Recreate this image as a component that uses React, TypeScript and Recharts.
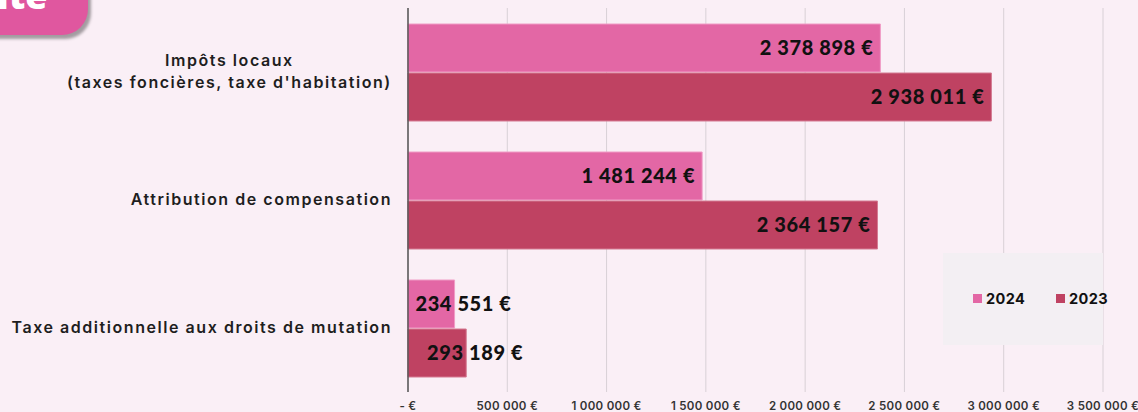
import React from 'react';
import { BarChart, Bar, XAxis, YAxis, CartesianGrid, Legend, LabelList } from 'recharts';

const categories = [
  'Impôts locaux\n(taxes foncières, taxe d\'habitation)',
  'Attribution de compensation',
  'Taxe additionnelle aux droits de mutation',
];
const values2024 = [2378898, 1481244, 234551];
const values2023 = [2938011, 2364157, 293189];
const xTicks = [0, 500000, 1000000, 1500000, 2000000, 2500000, 3000000, 3500000];
const seriesNames = ['2024', '2023'];
const colors = ['#e367a5', '#bf4262'];

const data = categories.map((c, i) => ({ name: c, v2024: values2024[i], v2023: values2023[i] }));

const fmt = (v: number) => {
  if (v === 0) return '- €';
  return String(Math.round(v)).replace(/\B(?=(\d{3})+(?!\d))/g, ' ') + ' €';
};

const CAT_FAMILY = 'Inter';
const CAT_SIZE = 16;
const CAT_SPACING = 1.55;
const CAT_FONT = `600 ${CAT_SIZE}px ${CAT_FAMILY}`;
const VAL_FAMILY = 'Lato';
const VAL_SIZE = 20;
let canvas: HTMLCanvasElement | null = null;
const measure = (t: string, font: string) => {
  if (!canvas) canvas = document.createElement('canvas');
  const ctx = canvas.getContext('2d')!;
  ctx.font = font;
  return ctx.measureText(t).width;
};

const YTick = (props: any) => {
  const { x, y, payload } = props;
  const lines = String(payload.value).split('\n');
  const rightX = x - 8;
  const lh = 22;
  const common = {
    fontFamily: CAT_FAMILY,
    fontWeight: 600,
    fontSize: CAT_SIZE,
    letterSpacing: CAT_SPACING,
    fill: '#1e1e1e',
  };
  if (lines.length === 1) {
    return (
      <text x={rightX} y={y} dy={5} textAnchor="end" {...common}>
        {lines[0]}
      </text>
    );
  }
  const maxW = Math.max(...lines.map((l) => measure(l, CAT_FONT) + l.length * CAT_SPACING));
  const cx = rightX - maxW / 2;
  const startY = y - ((lines.length - 1) * lh) / 2;
  return (
    <g>
      {lines.map((l, i) => (
        <text key={i} x={cx} y={startY + i * lh} dy={5} textAnchor="middle" {...common}>
          {l}
        </text>
      ))}
    </g>
  );
};

const XTick = (props: any) => {
  const { x, y, payload } = props;
  return (
    <text x={x} y={y} dy={10} textAnchor="middle" fontFamily="Inter" fontWeight={600} fontSize={11.5} letterSpacing={0.3} fill="#333">
      {fmt(payload.value)}
    </text>
  );
};

const ValueLabel = (props: any) => {
  const { x, y, width, height, value } = props;
  const text = fmt(value);
  const w = measure(text, `900 ${VAL_SIZE}px ${VAL_FAMILY}`) + text.length * 0.6;
  const cy = y + height / 2;
  const common = { fontFamily: VAL_FAMILY, fontWeight: 900, fontSize: VAL_SIZE, fill: '#111', letterSpacing: 0.6 };
  if (w + 20 > width) {
    return (
      <text x={x + width + 57} y={cy} dy={7} textAnchor="end" {...common}>
        {text}
      </text>
    );
  }
  return (
    <text x={x + width - 7} y={cy} dy={7} textAnchor="end" {...common}>
      {text}
    </text>
  );
};

const LegendContent = () => (
  <div
    style={{
      position: 'absolute',
      left: 943,
      top: 253,
      width: 160,
      height: 92,
      background: '#f3eff3',
      fontFamily: 'Inter',
      fontWeight: 700,
      fontSize: 14.5,
      letterSpacing: 0.4,
      color: '#111',
    }}
  >
    {seriesNames.map((s, i) => (
      <div key={s} style={{ position: 'absolute', left: 30 + i * 83, top: 37, display: 'flex', alignItems: 'center' }}>
        <span style={{ width: 9, height: 9, background: colors[i], display: 'inline-block', marginRight: 4 }} />
        <span>{s}</span>
      </div>
    ))}
  </div>
);

export default function App() {
  return (
    <div style={{ position: 'absolute', left: 0, top: 0, width: 1138, height: 412, background: '#faeff6', overflow: 'hidden' }}>
      <div
        style={{
          position: 'absolute',
          left: -70,
          top: -45,
          width: 158,
          height: 80,
          borderRadius: 26,
          background: '#e0579f',
          boxShadow: '3px 4px 3px rgba(0,0,0,0.35)',
          overflow: 'hidden',
        }}
      >
        <span
          style={{
            position: 'absolute',
            left: 67,
            top: 41,
            color: '#fff',
            fontFamily: 'Open Sans',
            fontWeight: 800,
            fontSize: 36,
            lineHeight: '0px',
            whiteSpace: 'nowrap',
          }}
        >
          ite
        </span>
      </div>
      <BarChart
        width={1138}
        height={412}
        data={data}
        layout="vertical"
        margin={{ top: 8, right: 35, bottom: 0, left: 0 }}
        barSize={48}
        barGap={1}
        style={{ position: 'absolute', left: 0, top: 0 }}
      >
        <CartesianGrid horizontal={false} vertical={true} stroke="#d8d0d6" strokeWidth={1} />
        <XAxis
          type="number"
          domain={[0, 3500000]}
          ticks={xTicks}
          tick={<XTick />}
          tickLine={false}
          axisLine={false}
          height={20}
          interval={0}
        />
        <YAxis
          type="category"
          dataKey="name"
          width={408}
          tick={<YTick />}
          tickLine={false}
          axisLine={{ stroke: '#555', strokeWidth: 1.5 }}
          interval={0}
        />
        <Legend content={<LegendContent />} wrapperStyle={{ position: 'absolute', left: 0, top: 0, width: 0, height: 0 }} />
        <Bar dataKey="v2024" name="2024" fill={colors[0]} stroke="#f09cc6" strokeWidth={1} isAnimationActive={false}>
          <LabelList dataKey="v2024" content={<ValueLabel />} />
        </Bar>
        <Bar dataKey="v2023" name="2023" fill={colors[1]} stroke="#d47a92" strokeWidth={1} isAnimationActive={false}>
          <LabelList dataKey="v2023" content={<ValueLabel />} />
        </Bar>
      </BarChart>
    </div>
  );
}
